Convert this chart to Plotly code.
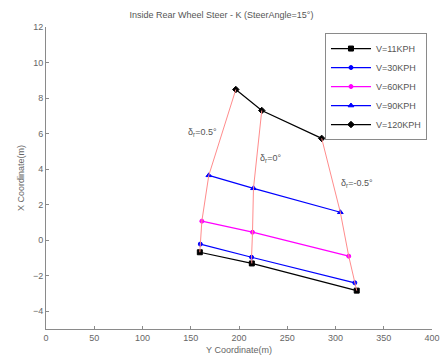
import plotly.graph_objects as go

# Data
series_names = ["V=11KPH", "V=30KPH", "V=60KPH", "V=90KPH", "V=120KPH"]
# each series: 3 points (rear steer 0.5°, 0°, -0.5°)
ycoord = {
    "V=11KPH": [159.4, 213.3, 322.0],
    "V=30KPH": [159.9, 213.0, 320.0],
    "V=60KPH": [161.5, 214.0, 313.7],
    "V=90KPH": [168.7, 215.0, 305.0],
    "V=120KPH": [196.7, 223.6, 285.7],
}
xcoord = {
    "V=11KPH": [-0.68, -1.31, -2.84],
    "V=30KPH": [-0.22, -0.96, -2.40],
    "V=60KPH": [1.07, 0.45, -0.90],
    "V=90KPH": [3.65, 2.92, 1.57],
    "V=120KPH": [8.48, 7.30, 5.73],
}
rear_labels = ["δ<sub>r</sub>=0.5°", "δ<sub>r</sub>=0°", "δ<sub>r</sub>=-0.5°"]

colors = ["#000000", "#0000ff", "#ff00ff", "#0000ff", "#000000"]
symbols = ["square", "circle", "circle", "triangle-up", "diamond"]
msizes = [5, 4, 4, 5, 5]

fig = go.Figure()
for name, c, s, ms in zip(series_names, colors, symbols, msizes):
    fig.add_trace(go.Scatter(
        x=ycoord[name], y=xcoord[name], name=name, mode="lines+markers",
        line=dict(color=c, width=1.2),
        marker=dict(symbol=s, size=ms, color=c, line=dict(color=c, width=1)),
    ))

# constant rear-steer lines (red)
for i in range(3):
    fig.add_trace(go.Scatter(
        x=[ycoord[n][i] for n in series_names],
        y=[xcoord[n][i] for n in series_names],
        mode="lines", line=dict(color="#ff8c8c", width=1), showlegend=False,
        hoverinfo="skip",
    ))

ann_pos = [(179, 6.05, "right"), (220, 4.6, "left"), (304, 3.2, "left")]
for (ax_, ay_, anc), txt in zip(ann_pos, rear_labels):
    fig.add_annotation(x=ax_, y=ay_, text=txt, showarrow=False, xanchor=anc,
                       font=dict(size=9, color="#555555"))

axis_common = dict(showgrid=False, zeroline=False, showline=True, linecolor="#8a8a8a",
                   linewidth=1, ticks="inside", ticklen=3, tickcolor="#8a8a8a",
                   tickfont=dict(size=9, color="#666666"), mirror=False, automargin=False)
fig.update_xaxes(range=[0, 400], dtick=50, title=dict(text="Y Coordinate(m)", font=dict(size=9, color="#666666"), standoff=4), **axis_common)
fig.update_yaxes(range=[-5, 12], dtick=2, title=dict(text="X Coordinate(m)", font=dict(size=9, color="#666666"), standoff=6), **axis_common)

fig.update_layout(
    width=443, height=362,
    margin=dict(l=46, r=11, t=27, b=33),
    plot_bgcolor="white", paper_bgcolor="white",
    font=dict(family="Liberation Sans, Arial, sans-serif"),
    title=dict(text="Inside Rear Wheel Steer - K (SteerAngle=15°)", x=0.5, xanchor="center",
               y=1 - 15 / 362, yanchor="middle", font=dict(size=9, color="#555555")),
    legend=dict(x=0.987, y=0.98, xanchor="right", yanchor="top", bgcolor="white",
                bordercolor="#8a8a8a", borderwidth=1, font=dict(size=9, color="#555555"),
                tracegroupgap=0, itemwidth=40),
    showlegend=True,
)

fig.write_html("out.html")
